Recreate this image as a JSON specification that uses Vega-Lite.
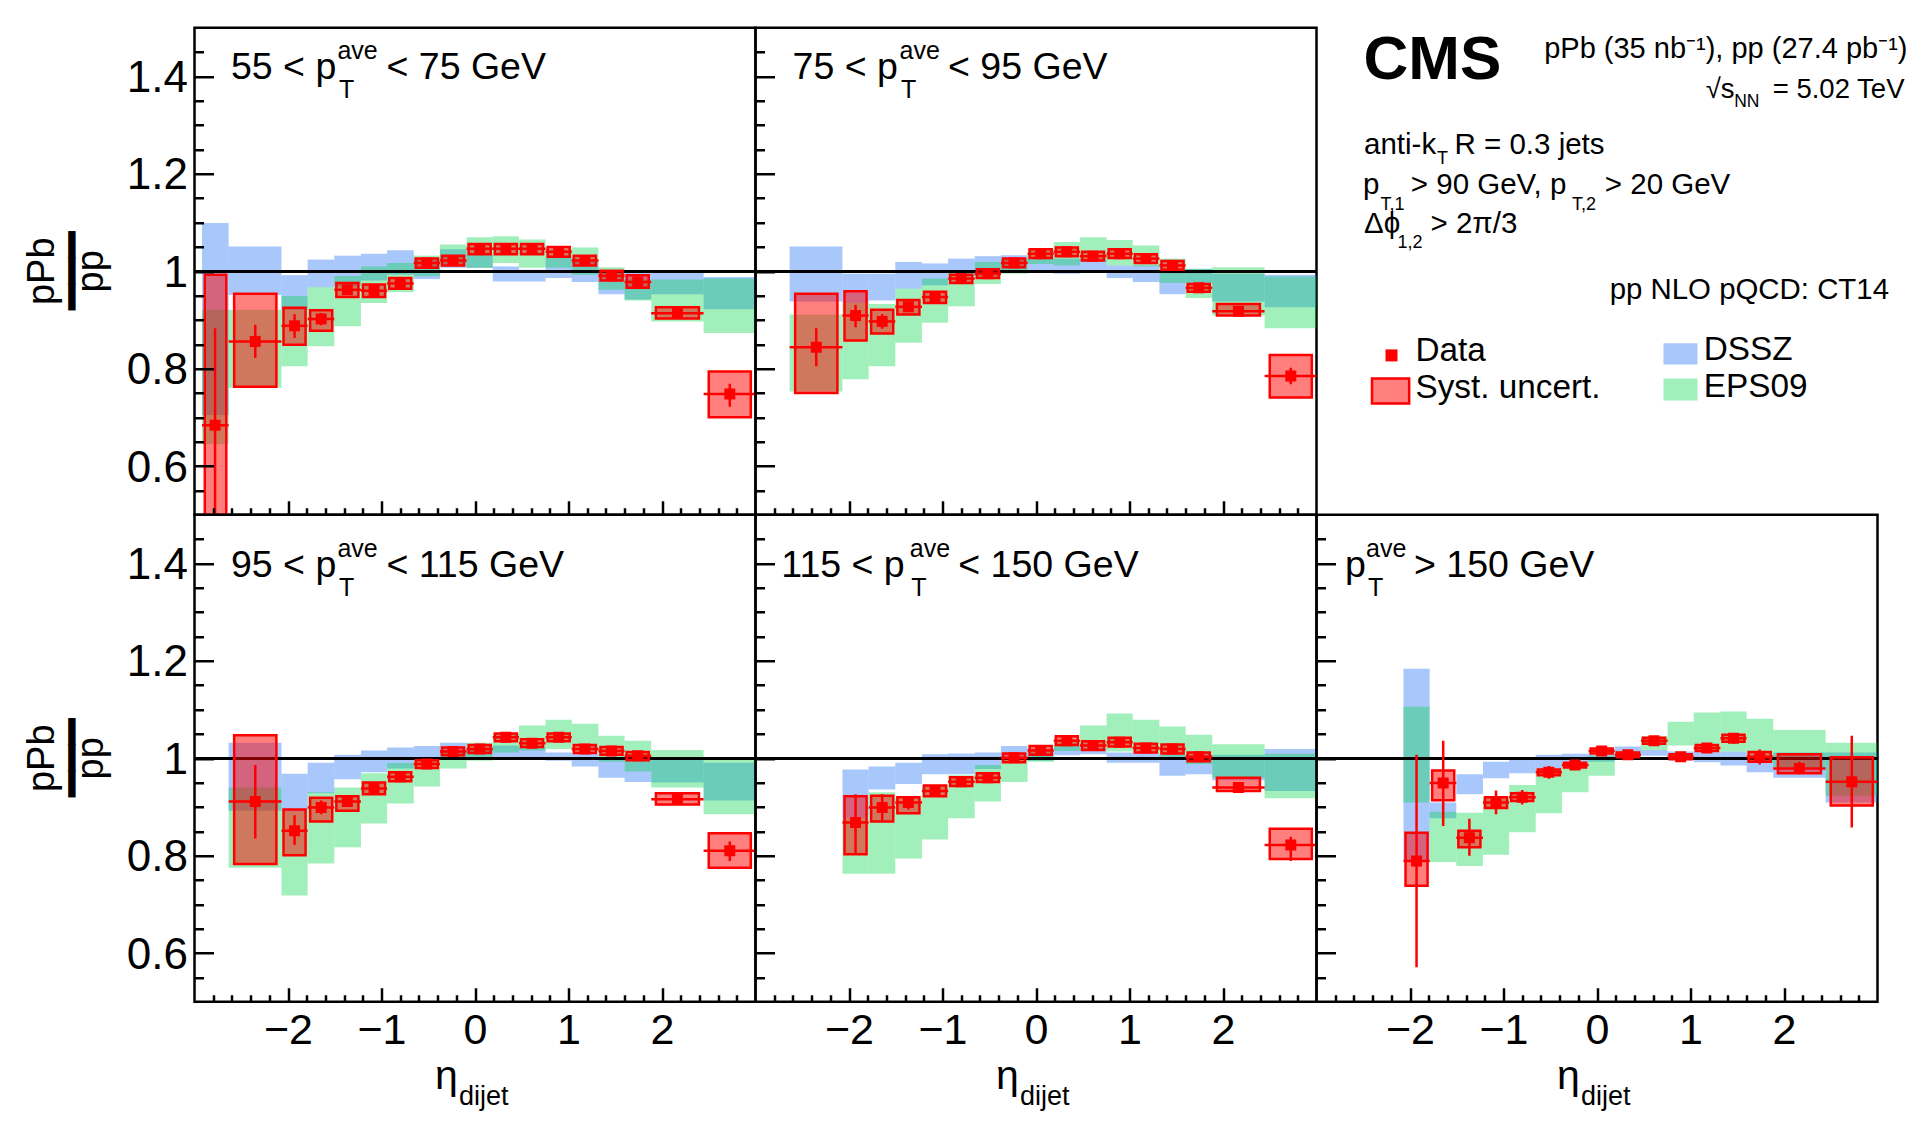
{
"$schema": "https://vega.github.io/schema/vega-lite/v6.json",
"background": "white",
"padding": {"left": 22.5, "top": 25.75, "right": 5, "bottom": 5},
"config": {
  "view": {"stroke": "black", "strokeWidth": 2.5},
  "font": "Liberation Sans",
  "text": {"font": "Liberation Sans", "color": "black", "baseline": "alphabetic"},
  "axis": {"labelFont": "Liberation Sans", "labelColor": "black", "minExtent": 0}
},
"datasets": {
"bins": [
{"p":"a","lo":-2.92,"hi":-2.635,"x":-2.78,"bl":-2.89,"bh":-2.66,"r":0.684,"sl":0.45,"sh":0.883,"yl":0.35,"yh":0.993,"dl":0.705,"dh":1.099,"el":0.645,"eh":0.921},
{"p":"a","lo":-2.635,"hi":-2.07,"x":-2.35,"bl":-2.576,"bh":-2.124,"r":0.856,"sl":0.822,"sh":0.89,"yl":0.763,"yh":0.954,"dl":0.951,"dh":1.051,"el":0.761,"eh":0.921},
{"p":"a","lo":-2.07,"hi":-1.79,"x":-1.93,"bl":-2.048,"bh":-1.812,"r":0.888,"sl":0.863,"sh":0.912,"yl":0.849,"yh":0.925,"dl":0.921,"dh":0.992,"el":0.805,"eh":0.949},
{"p":"a","lo":-1.79,"hi":-1.505,"x":-1.645,"bl":-1.763,"bh":-1.527,"r":0.902,"sl":0.889,"sh":0.914,"yl":0.878,"yh":0.92,"dl":0.967,"dh":1.024,"el":0.846,"eh":0.967},
{"p":"a","lo":-1.505,"hi":-1.22,"x":-1.365,"bl":-1.483,"bh":-1.247,"r":0.962,"sl":0.953,"sh":0.971,"yl":0.947,"yh":0.976,"dl":0.969,"dh":1.032,"el":0.887,"eh":0.99},
{"p":"a","lo":-1.22,"hi":-0.94,"x":-1.08,"bl":-1.198,"bh":-0.962,"r":0.96,"sl":0.952,"sh":0.968,"yl":0.947,"yh":0.973,"dl":0.981,"dh":1.036,"el":0.935,"eh":1.01},
{"p":"a","lo":-0.94,"hi":-0.655,"x":-0.8,"bl":-0.918,"bh":-0.682,"r":0.975,"sl":0.968,"sh":0.982,"yl":0.964,"yh":0.986,"dl":0.993,"dh":1.043,"el":0.957,"eh":1.017},
{"p":"a","lo":-0.655,"hi":-0.375,"x":-0.515,"bl":-0.633,"bh":-0.397,"r":1.017,"sl":1.011,"sh":1.023,"yl":1.007,"yh":1.026,"dl":0.984,"dh":1.027,"el":0.99,"eh":1.032},
{"p":"a","lo":-0.375,"hi":-0.09,"x":-0.235,"bl":-0.353,"bh":-0.117,"r":1.022,"sl":1.016,"sh":1.028,"yl":1.012,"yh":1.032,"dl":1.007,"dh":1.045,"el":1.012,"eh":1.055},
{"p":"a","lo":-0.09,"hi":0.19,"x":0.05,"bl":-0.068,"bh":0.168,"r":1.046,"sl":1.04,"sh":1.052,"yl":1.035,"yh":1.056,"dl":1.007,"dh":1.034,"el":1.007,"eh":1.07},
{"p":"a","lo":0.19,"hi":0.47,"x":0.33,"bl":0.212,"bh":0.448,"r":1.046,"sl":1.04,"sh":1.052,"yl":1.035,"yh":1.056,"dl":0.979,"dh":1.01,"el":1.017,"eh":1.072},
{"p":"a","lo":0.47,"hi":0.755,"x":0.61,"bl":0.492,"bh":0.728,"r":1.046,"sl":1.04,"sh":1.052,"yl":1.035,"yh":1.056,"dl":0.979,"dh":1.003,"el":1.007,"eh":1.065},
{"p":"a","lo":0.755,"hi":1.035,"x":0.895,"bl":0.777,"bh":1.013,"r":1.04,"sl":1.034,"sh":1.046,"yl":1.03,"yh":1.05,"dl":0.986,"dh":1.028,"el":1.007,"eh":1.045},
{"p":"a","lo":1.035,"hi":1.32,"x":1.175,"bl":1.057,"bh":1.293,"r":1.022,"sl":1.016,"sh":1.028,"yl":1.012,"yh":1.032,"dl":0.978,"dh":1.024,"el":0.993,"eh":1.049},
{"p":"a","lo":1.32,"hi":1.6,"x":1.46,"bl":1.342,"bh":1.578,"r":0.991,"sl":0.985,"sh":0.997,"yl":0.981,"yh":1.001,"dl":0.953,"dh":1.0,"el":0.962,"eh":1.008},
{"p":"a","lo":1.6,"hi":1.885,"x":1.74,"bl":1.622,"bh":1.858,"r":0.978,"sl":0.965,"sh":0.99,"yl":0.966,"yh":0.992,"dl":0.942,"dh":0.997,"el":0.94,"eh":0.983},
{"p":"a","lo":1.885,"hi":2.445,"x":2.165,"bl":1.935,"bh":2.395,"r":0.914,"sl":0.909,"sh":0.919,"yl":0.903,"yh":0.926,"dl":0.953,"dh":0.997,"el":0.897,"eh":0.983},
{"p":"a","lo":2.445,"hi":3.0,"x":2.725,"bl":2.5,"bh":2.95,"r":0.748,"sl":0.722,"sh":0.769,"yl":0.7,"yh":0.794,"dl":0.922,"dh":0.988,"el":0.873,"eh":0.985},

{"p":"b","lo":-2.635,"hi":-2.07,"x":-2.35,"bl":-2.576,"bh":-2.124,"r":0.844,"sl":0.805,"sh":0.883,"yl":0.75,"yh":0.954,"dl":0.938,"dh":1.051,"el":0.753,"eh":0.911},
{"p":"b","lo":-2.07,"hi":-1.79,"x":-1.93,"bl":-2.048,"bh":-1.812,"r":0.909,"sl":0.885,"sh":0.931,"yl":0.858,"yh":0.959,"dl":0.935,"dh":0.995,"el":0.778,"eh":0.935},
{"p":"b","lo":-1.79,"hi":-1.505,"x":-1.645,"bl":-1.763,"bh":-1.527,"r":0.897,"sl":0.882,"sh":0.912,"yl":0.872,"yh":0.921,"dl":0.94,"dh":0.995,"el":0.805,"eh":0.933},
{"p":"b","lo":-1.505,"hi":-1.22,"x":-1.365,"bl":-1.483,"bh":-1.247,"r":0.927,"sl":0.918,"sh":0.936,"yl":0.911,"yh":0.941,"dl":0.964,"dh":1.019,"el":0.853,"eh":0.964},
{"p":"b","lo":-1.22,"hi":-0.94,"x":-1.08,"bl":-1.198,"bh":-0.962,"r":0.947,"sl":0.94,"sh":0.954,"yl":0.935,"yh":0.958,"dl":0.971,"dh":1.016,"el":0.894,"eh":0.985},
{"p":"b","lo":-0.94,"hi":-0.655,"x":-0.8,"bl":-0.918,"bh":-0.682,"r":0.985,"sl":0.979,"sh":0.991,"yl":0.976,"yh":0.993,"dl":0.99,"dh":1.026,"el":0.928,"eh":0.997},
{"p":"b","lo":-0.655,"hi":-0.375,"x":-0.515,"bl":-0.633,"bh":-0.397,"r":0.995,"sl":0.989,"sh":1.001,"yl":0.986,"yh":1.004,"dl":0.99,"dh":1.031,"el":0.974,"eh":1.019},
{"p":"b","lo":-0.375,"hi":-0.09,"x":-0.235,"bl":-0.353,"bh":-0.117,"r":1.017,"sl":1.011,"sh":1.023,"yl":1.008,"yh":1.026,"dl":1.001,"dh":1.033,"el":0.995,"eh":1.026},
{"p":"b","lo":-0.09,"hi":0.19,"x":0.05,"bl":-0.068,"bh":0.168,"r":1.036,"sl":1.03,"sh":1.042,"yl":1.027,"yh":1.045,"dl":1.001,"dh":1.029,"el":1.015,"eh":1.045},
{"p":"b","lo":0.19,"hi":0.47,"x":0.33,"bl":0.212,"bh":0.448,"r":1.04,"sl":1.034,"sh":1.046,"yl":1.031,"yh":1.049,"dl":0.995,"dh":1.026,"el":1.012,"eh":1.06},
{"p":"b","lo":0.47,"hi":0.755,"x":0.61,"bl":0.492,"bh":0.728,"r":1.031,"sl":1.025,"sh":1.037,"yl":1.022,"yh":1.04,"dl":1.0,"dh":1.026,"el":1.019,"eh":1.07},
{"p":"b","lo":0.755,"hi":1.035,"x":0.895,"bl":0.777,"bh":1.013,"r":1.036,"sl":1.03,"sh":1.042,"yl":1.027,"yh":1.045,"dl":0.986,"dh":1.012,"el":1.012,"eh":1.064},
{"p":"b","lo":1.035,"hi":1.32,"x":1.175,"bl":1.057,"bh":1.293,"r":1.026,"sl":1.02,"sh":1.032,"yl":1.017,"yh":1.035,"dl":0.978,"dh":1.012,"el":1.01,"eh":1.053},
{"p":"b","lo":1.32,"hi":1.6,"x":1.46,"bl":1.342,"bh":1.578,"r":1.012,"sl":1.006,"sh":1.018,"yl":1.003,"yh":1.021,"dl":0.953,"dh":0.997,"el":0.976,"eh":1.026},
{"p":"b","lo":1.6,"hi":1.885,"x":1.74,"bl":1.622,"bh":1.858,"r":0.966,"sl":0.96,"sh":0.972,"yl":0.958,"yh":0.974,"dl":0.976,"dh":1.005,"el":0.945,"eh":1.005},
{"p":"b","lo":1.885,"hi":2.445,"x":2.165,"bl":1.935,"bh":2.395,"r":0.918,"sl":0.913,"sh":0.923,"yl":0.909,"yh":0.933,"dl":0.938,"dh":0.995,"el":0.909,"eh":1.008},
{"p":"b","lo":2.445,"hi":3.0,"x":2.725,"bl":2.5,"bh":2.95,"r":0.785,"sl":0.768,"sh":0.802,"yl":0.741,"yh":0.828,"dl":0.926,"dh":0.993,"el":0.883,"eh":0.989},

{"p":"c","lo":-2.635,"hi":-2.07,"x":-2.35,"bl":-2.576,"bh":-2.124,"r":0.911,"sl":0.835,"sh":0.986,"yl":0.783,"yh":1.047,"dl":0.892,"dh":1.032,"el":0.775,"eh":0.94},
{"p":"c","lo":-2.07,"hi":-1.79,"x":-1.93,"bl":-2.048,"bh":-1.812,"r":0.851,"sl":0.822,"sh":0.883,"yl":0.801,"yh":0.895,"dl":0.89,"dh":0.968,"el":0.718,"eh":0.89},
{"p":"c","lo":-1.79,"hi":-1.505,"x":-1.645,"bl":-1.763,"bh":-1.527,"r":0.899,"sl":0.885,"sh":0.913,"yl":0.87,"yh":0.919,"dl":0.928,"dh":0.991,"el":0.784,"eh":0.93},
{"p":"c","lo":-1.505,"hi":-1.22,"x":-1.365,"bl":-1.483,"bh":-1.247,"r":0.911,"sl":0.9,"sh":0.921,"yl":0.892,"yh":0.922,"dl":0.957,"dh":1.007,"el":0.817,"eh":0.94},
{"p":"c","lo":-1.22,"hi":-0.94,"x":-1.08,"bl":-1.198,"bh":-0.962,"r":0.938,"sl":0.931,"sh":0.945,"yl":0.926,"yh":0.95,"dl":0.971,"dh":1.016,"el":0.866,"eh":0.969},
{"p":"c","lo":-0.94,"hi":-0.655,"x":-0.8,"bl":-0.918,"bh":-0.682,"r":0.962,"sl":0.956,"sh":0.968,"yl":0.953,"yh":0.971,"dl":0.979,"dh":1.022,"el":0.907,"eh":0.99},
{"p":"c","lo":-0.655,"hi":-0.375,"x":-0.515,"bl":-0.633,"bh":-0.397,"r":0.988,"sl":0.982,"sh":0.994,"yl":0.98,"yh":0.996,"dl":0.995,"dh":1.025,"el":0.942,"eh":1.0},
{"p":"c","lo":-0.375,"hi":-0.09,"x":-0.235,"bl":-0.353,"bh":-0.117,"r":1.014,"sl":1.008,"sh":1.02,"yl":1.006,"yh":1.022,"dl":1.0,"dh":1.032,"el":0.979,"eh":1.015},
{"p":"c","lo":-0.09,"hi":0.19,"x":0.05,"bl":-0.068,"bh":0.168,"r":1.019,"sl":1.013,"sh":1.025,"yl":1.011,"yh":1.027,"dl":0.998,"dh":1.02,"el":0.995,"eh":1.032},
{"p":"c","lo":0.19,"hi":0.47,"x":0.33,"bl":0.212,"bh":0.448,"r":1.043,"sl":1.037,"sh":1.049,"yl":1.035,"yh":1.051,"dl":1.001,"dh":1.026,"el":1.012,"eh":1.051},
{"p":"c","lo":0.47,"hi":0.755,"x":0.61,"bl":0.492,"bh":0.728,"r":1.031,"sl":1.025,"sh":1.037,"yl":1.023,"yh":1.039,"dl":0.998,"dh":1.022,"el":1.016,"eh":1.067},
{"p":"c","lo":0.755,"hi":1.035,"x":0.895,"bl":0.777,"bh":1.013,"r":1.043,"sl":1.037,"sh":1.049,"yl":1.035,"yh":1.051,"dl":0.995,"dh":1.012,"el":1.019,"eh":1.079},
{"p":"c","lo":1.035,"hi":1.32,"x":1.175,"bl":1.057,"bh":1.293,"r":1.019,"sl":1.013,"sh":1.025,"yl":1.011,"yh":1.027,"dl":0.983,"dh":1.01,"el":1.014,"eh":1.071},
{"p":"c","lo":1.32,"hi":1.6,"x":1.46,"bl":1.342,"bh":1.578,"r":1.015,"sl":1.009,"sh":1.021,"yl":1.007,"yh":1.023,"dl":0.96,"dh":1.003,"el":0.993,"eh":1.046},
{"p":"c","lo":1.6,"hi":1.885,"x":1.74,"bl":1.622,"bh":1.858,"r":1.005,"sl":0.999,"sh":1.011,"yl":0.996,"yh":1.013,"dl":0.951,"dh":1.0,"el":0.973,"eh":1.036},
{"p":"c","lo":1.885,"hi":2.445,"x":2.165,"bl":1.935,"bh":2.395,"r":0.916,"sl":0.911,"sh":0.921,"yl":0.905,"yh":0.928,"dl":0.95,"dh":1.001,"el":0.94,"eh":1.017},
{"p":"c","lo":2.445,"hi":3.0,"x":2.725,"bl":2.5,"bh":2.95,"r":0.81,"sl":0.789,"sh":0.829,"yl":0.775,"yh":0.846,"dl":0.913,"dh":0.991,"el":0.885,"eh":0.997},

{"p":"d","lo":-2.07,"hi":-1.79,"x":-1.93,"bl":-2.048,"bh":-1.812,"r":0.868,"sl":0.805,"sh":0.926,"yl":0.803,"yh":0.922,"dl":0.878,"dh":0.977,"el":0.763,"eh":0.878},
{"p":"d","lo":-1.79,"hi":-1.505,"x":-1.645,"bl":-1.763,"bh":-1.527,"r":0.899,"sl":0.872,"sh":0.926,"yl":0.87,"yh":0.923,"dl":0.936,"dh":0.983,"el":0.763,"eh":0.93},
{"p":"d","lo":-1.505,"hi":-1.22,"x":-1.365,"bl":-1.483,"bh":-1.247,"r":0.909,"sl":0.895,"sh":0.922,"yl":0.887,"yh":0.92,"dl":0.947,"dh":0.991,"el":0.794,"eh":0.918},
{"p":"d","lo":-1.22,"hi":-0.94,"x":-1.08,"bl":-1.198,"bh":-0.962,"r":0.933,"sl":0.925,"sh":0.941,"yl":0.922,"yh":0.944,"dl":0.967,"dh":1.008,"el":0.833,"eh":0.945},
{"p":"d","lo":-0.94,"hi":-0.655,"x":-0.8,"bl":-0.918,"bh":-0.682,"r":0.952,"sl":0.946,"sh":0.958,"yl":0.943,"yh":0.961,"dl":0.967,"dh":1.01,"el":0.877,"eh":0.965},
{"p":"d","lo":-0.655,"hi":-0.375,"x":-0.515,"bl":-0.633,"bh":-0.397,"r":0.96,"sl":0.954,"sh":0.966,"yl":0.951,"yh":0.969,"dl":0.978,"dh":1.012,"el":0.911,"eh":0.986},
{"p":"d","lo":-0.375,"hi":-0.09,"x":-0.235,"bl":-0.353,"bh":-0.117,"r":1.001,"sl":0.995,"sh":1.007,"yl":0.992,"yh":1.01,"dl":1.0,"dh":1.025,"el":0.951,"eh":1.0},
{"p":"d","lo":-0.09,"hi":0.19,"x":0.05,"bl":-0.068,"bh":0.168,"r":1.016,"sl":1.01,"sh":1.022,"yl":1.007,"yh":1.025,"dl":0.995,"dh":1.012,"el":0.993,"eh":1.02},
{"p":"d","lo":0.19,"hi":0.47,"x":0.33,"bl":0.212,"bh":0.448,"r":1.036,"sl":1.03,"sh":1.042,"yl":1.027,"yh":1.045,"dl":1.006,"dh":1.025,"el":1.015,"eh":1.036},
{"p":"d","lo":0.47,"hi":0.755,"x":0.61,"bl":0.492,"bh":0.728,"r":1.026,"sl":1.02,"sh":1.032,"yl":1.017,"yh":1.035,"dl":1.008,"dh":1.02,"el":1.017,"eh":1.067},
{"p":"d","lo":0.755,"hi":1.035,"x":0.895,"bl":0.777,"bh":1.013,"r":1.033,"sl":1.027,"sh":1.039,"yl":1.024,"yh":1.042,"dl":0.991,"dh":1.012,"el":1.014,"eh":1.092},
{"p":"d","lo":1.035,"hi":1.32,"x":1.175,"bl":1.057,"bh":1.293,"r":1.021,"sl":1.015,"sh":1.027,"yl":1.012,"yh":1.03,"dl":0.991,"dh":1.01,"el":1.01,"eh":1.079},
{"p":"d","lo":1.32,"hi":1.6,"x":1.46,"bl":1.342,"bh":1.578,"r":1.019,"sl":1.013,"sh":1.025,"yl":1.01,"yh":1.028,"dl":0.964,"dh":1.007,"el":1.0,"eh":1.065},
{"p":"d","lo":1.6,"hi":1.885,"x":1.74,"bl":1.622,"bh":1.858,"r":1.003,"sl":0.997,"sh":1.009,"yl":0.994,"yh":1.012,"dl":0.967,"dh":1.007,"el":0.988,"eh":1.048},
{"p":"d","lo":1.885,"hi":2.445,"x":2.165,"bl":1.935,"bh":2.395,"r":0.94,"sl":0.935,"sh":0.945,"yl":0.933,"yh":0.96,"dl":0.955,"dh":1.007,"el":0.96,"eh":1.029},
{"p":"d","lo":2.445,"hi":3.0,"x":2.725,"bl":2.5,"bh":2.95,"r":0.822,"sl":0.789,"sh":0.839,"yl":0.793,"yh":0.855,"dl":0.933,"dh":1.019,"el":0.918,"eh":1.009},

{"p":"e","lo":-2.07,"hi":-1.79,"x":-1.93,"bl":-2.048,"bh":-1.812,"r":0.789,"sl":0.571,"sh":1.007,"yl":0.738,"yh":0.847,"dl":0.79,"dh":1.184,"el":0.909,"eh":1.106},
{"p":"e","lo":-1.79,"hi":-1.505,"x":-1.645,"bl":-1.763,"bh":-1.527,"r":0.949,"sl":0.861,"sh":1.036,"yl":0.914,"yh":0.975,"dl":0.877,"dh":0.909,"el":0.787,"eh":0.89},
{"p":"e","lo":-1.505,"hi":-1.22,"x":-1.365,"bl":-1.483,"bh":-1.247,"r":0.837,"sl":0.8,"sh":0.876,"yl":0.817,"yh":0.851,"dl":0.926,"dh":0.967,"el":0.779,"eh":0.888},
{"p":"e","lo":-1.22,"hi":-0.94,"x":-1.08,"bl":-1.198,"bh":-0.962,"r":0.909,"sl":0.885,"sh":0.934,"yl":0.898,"yh":0.92,"dl":0.959,"dh":0.993,"el":0.802,"eh":0.92},
{"p":"e","lo":-0.94,"hi":-0.655,"x":-0.8,"bl":-0.918,"bh":-0.682,"r":0.92,"sl":0.905,"sh":0.935,"yl":0.912,"yh":0.928,"dl":0.969,"dh":0.999,"el":0.848,"eh":0.945},
{"p":"e","lo":-0.655,"hi":-0.375,"x":-0.515,"bl":-0.633,"bh":-0.397,"r":0.971,"sl":0.958,"sh":0.984,"yl":0.965,"yh":0.977,"dl":0.979,"dh":1.007,"el":0.887,"eh":0.979},
{"p":"e","lo":-0.375,"hi":-0.09,"x":-0.235,"bl":-0.353,"bh":-0.117,"r":0.986,"sl":0.976,"sh":0.996,"yl":0.981,"yh":0.991,"dl":0.99,"dh":1.009,"el":0.93,"eh":0.99},
{"p":"e","lo":-0.09,"hi":0.19,"x":0.05,"bl":-0.068,"bh":0.168,"r":1.015,"sl":1.006,"sh":1.024,"yl":1.01,"yh":1.02,"dl":0.993,"dh":1.008,"el":0.964,"eh":1.005},
{"p":"e","lo":0.19,"hi":0.47,"x":0.33,"bl":0.212,"bh":0.448,"r":1.007,"sl":1.001,"sh":1.013,"yl":1.002,"yh":1.012,"dl":0.998,"dh":1.024,"el":0.998,"eh":1.015},
{"p":"e","lo":0.47,"hi":0.755,"x":0.61,"bl":0.492,"bh":0.728,"r":1.036,"sl":1.028,"sh":1.044,"yl":1.03,"yh":1.042,"dl":1.005,"dh":1.017,"el":1.017,"eh":1.045},
{"p":"e","lo":0.755,"hi":1.035,"x":0.895,"bl":0.777,"bh":1.013,"r":1.003,"sl":0.995,"sh":1.011,"yl":0.998,"yh":1.008,"dl":0.997,"dh":1.014,"el":1.026,"eh":1.075},
{"p":"e","lo":1.035,"hi":1.32,"x":1.175,"bl":1.057,"bh":1.293,"r":1.021,"sl":1.012,"sh":1.03,"yl":1.015,"yh":1.027,"dl":0.992,"dh":1.014,"el":1.014,"eh":1.094},
{"p":"e","lo":1.32,"hi":1.6,"x":1.46,"bl":1.342,"bh":1.578,"r":1.041,"sl":1.03,"sh":1.052,"yl":1.034,"yh":1.048,"dl":0.985,"dh":1.014,"el":1.014,"eh":1.096},
{"p":"e","lo":1.6,"hi":1.885,"x":1.74,"bl":1.622,"bh":1.858,"r":1.003,"sl":0.987,"sh":1.018,"yl":0.993,"yh":1.013,"dl":0.971,"dh":1.0,"el":0.99,"eh":1.081},
{"p":"e","lo":1.885,"hi":2.445,"x":2.165,"bl":1.935,"bh":2.395,"r":0.979,"sl":0.967,"sh":0.993,"yl":0.969,"yh":1.008,"dl":0.96,"dh":1.012,"el":0.981,"eh":1.058},
{"p":"e","lo":2.445,"hi":3.0,"x":2.725,"bl":2.5,"bh":2.95,"r":0.952,"sl":0.858,"sh":1.046,"yl":0.903,"yh":1.002,"dl":0.909,"dh":1.012,"el":0.923,"eh":1.032}
]
},
"bounds": "flush",
"spacing": 0,
"columns": 3,
"concat": [
{
"width": 561, "height": 487,
"data": {"name": "bins"},
"transform": [{"filter": "datum.p === 'a'"}],
"resolve": {"axis": {"x": "independent", "y": "independent"}},
"layer": [
{"mark": {"type": "rect", "color": "#1468f1", "fillOpacity": 0.37, "clip": true},
 "encoding": {
  "x": {"field": "lo", "type": "quantitative", "scale": {"domain": [-3, 3], "nice": false, "zero": false},
        "axis": {"orient": "bottom", "values": [-2, -1, 0, 1, 2], "tickSize": -14, "tickWidth": 2.5, "tickColor": "black", "domain": false, "grid": false, "labels": false, "title": null, "zindex": 1}},
  "x2": {"field": "hi"},
  "y": {"field": "dl", "type": "quantitative", "scale": {"domain": [0.5, 1.5], "nice": false, "zero": false},
        "axis": {"orient": "left", "values": [0.6, 0.8, 1, 1.2, 1.4], "format": "~g", "tickSize": -19, "tickWidth": 2.5, "tickColor": "black", "domain": false, "grid": false, "labels": true, "labelFontSize": 44, "labelPadding": 26, "labelOffset": 2, "labelOverlap": false, "labelFlush": false, "labelBound": false, "title": null, "zindex": 1}},
  "y2": {"field": "dh"}}},
{"mark": {"type": "rect", "color": "#00d64a", "fillOpacity": 0.37, "clip": true},
 "encoding": {
  "x": {"field": "lo", "type": "quantitative",
        "axis": {"orient": "bottom", "values": [-2.8, -2.6, -2.4, -2.2, -1.8, -1.6, -1.4, -1.2, -0.8, -0.6, -0.4, -0.2, 0.2, 0.4, 0.6, 0.8, 1.2, 1.4, 1.6, 1.8, 2.2, 2.4, 2.6, 2.8], "tickSize": -7, "tickWidth": 2.5, "tickColor": "black", "domain": false, "grid": false, "labels": false, "title": null, "zindex": 1}},
  "x2": {"field": "hi"},
  "y": {"field": "el", "type": "quantitative",
        "axis": {"orient": "left", "values": [0.55, 0.65, 0.7, 0.75, 0.85, 0.9, 0.95, 1.05, 1.1, 1.15, 1.25, 1.3, 1.35, 1.45], "tickSize": -9, "tickWidth": 2.5, "tickColor": "black", "domain": false, "grid": false, "labels": false, "title": null, "zindex": 1}},
  "y2": {"field": "eh"}}},
{"mark": {"type": "rule", "color": "black", "strokeWidth": 2}, "encoding": {"y": {"datum": 1, "type": "quantitative", "axis": null}}},
{"mark": {"type": "rect", "color": "#ff0000", "fillOpacity": 0.5, "stroke": "#ff0000", "strokeWidth": 2.5, "clip": true},
 "encoding": {"x": {"field": "bl", "type": "quantitative", "axis": null}, "x2": {"field": "bh"}, "y": {"field": "yl", "type": "quantitative", "axis": null}, "y2": {"field": "yh"}}},
{"mark": {"type": "rule", "color": "#ff0000", "strokeWidth": 2.5, "clip": true},
 "encoding": {"x": {"field": "x", "type": "quantitative", "axis": null}, "y": {"field": "sl", "type": "quantitative", "axis": null}, "y2": {"field": "sh"}}},
{"mark": {"type": "rule", "color": "#ff0000", "strokeWidth": 2.5, "clip": true},
 "encoding": {"x": {"field": "lo", "type": "quantitative", "axis": null}, "x2": {"field": "hi"}, "y": {"field": "r", "type": "quantitative", "axis": null}}},
{"mark": {"type": "square", "size": 121, "color": "#ff0000", "opacity": 1, "clip": true},
 "encoding": {"x": {"field": "x", "type": "quantitative", "axis": null}, "y": {"field": "r", "type": "quantitative", "axis": null}}},
{"data": {"values": [{}]}, "mark": {"type": "text", "text": "55 < p", "align": "left", "fontSize": 37.5},
 "encoding": {"x": {"datum": -2.61, "type": "quantitative", "axis": null}, "y": {"datum": 1.395, "type": "quantitative", "axis": null}}},
{"data": {"values": [{}]}, "mark": {"type": "text", "text": "ave", "align": "left", "fontSize": 25, "dx": 106.5, "dy": -19.5},
 "encoding": {"x": {"datum": -2.61, "type": "quantitative", "axis": null}, "y": {"datum": 1.395, "type": "quantitative", "axis": null}}},
{"data": {"values": [{}]}, "mark": {"type": "text", "text": "T", "align": "left", "fontSize": 25, "dx": 108, "dy": 19},
 "encoding": {"x": {"datum": -2.61, "type": "quantitative", "axis": null}, "y": {"datum": 1.395, "type": "quantitative", "axis": null}}},
{"data": {"values": [{}]}, "mark": {"type": "text", "text": "< 75 GeV", "align": "left", "fontSize": 37.5, "dx": 155.5},
 "encoding": {"x": {"datum": -2.61, "type": "quantitative", "axis": null}, "y": {"datum": 1.395, "type": "quantitative", "axis": null}}},
{"data": {"values": [{}]}, "mark": {"type": "text", "text": "pPb", "align": "center", "baseline": "middle", "angle": 270, "fontSize": 38, "dy": -151.5},
 "encoding": {"x": {"datum": -3, "type": "quantitative", "axis": null}, "y": {"datum": 1, "type": "quantitative", "axis": null}}},
{"data": {"values": [{}]}, "mark": {"type": "text", "text": "pp", "align": "center", "baseline": "middle", "angle": 270, "fontSize": 38, "dy": -103},
 "encoding": {"x": {"datum": -3, "type": "quantitative", "axis": null}, "y": {"datum": 1, "type": "quantitative", "axis": null}}},
{"data": {"values": [{}]}, "mark": {"type": "text", "text": "━━━", "align": "center", "baseline": "middle", "angle": 270, "fontSize": 44, "dy": -121},
 "encoding": {"x": {"datum": -3, "type": "quantitative", "axis": null}, "y": {"datum": 1, "type": "quantitative", "axis": null}}}
]
},
{
"width": 561, "height": 487,
"data": {"name": "bins"},
"transform": [{"filter": "datum.p === 'b'"}],
"resolve": {"axis": {"x": "independent", "y": "independent"}},
"layer": [
{"mark": {"type": "rect", "color": "#1468f1", "fillOpacity": 0.37, "clip": true},
 "encoding": {
  "x": {"field": "lo", "type": "quantitative", "scale": {"domain": [-3, 3], "nice": false, "zero": false},
        "axis": {"orient": "bottom", "values": [-2, -1, 0, 1, 2], "tickSize": -14, "tickWidth": 2.5, "tickColor": "black", "domain": false, "grid": false, "labels": false, "title": null, "zindex": 1}},
  "x2": {"field": "hi"},
  "y": {"field": "dl", "type": "quantitative", "scale": {"domain": [0.5, 1.5], "nice": false, "zero": false},
        "axis": {"orient": "left", "values": [0.6, 0.8, 1, 1.2, 1.4], "tickSize": -19, "tickWidth": 2.5, "tickColor": "black", "domain": false, "grid": false, "labels": false, "title": null, "zindex": 1}},
  "y2": {"field": "dh"}}},
{"mark": {"type": "rect", "color": "#00d64a", "fillOpacity": 0.37, "clip": true},
 "encoding": {
  "x": {"field": "lo", "type": "quantitative",
        "axis": {"orient": "bottom", "values": [-2.8, -2.6, -2.4, -2.2, -1.8, -1.6, -1.4, -1.2, -0.8, -0.6, -0.4, -0.2, 0.2, 0.4, 0.6, 0.8, 1.2, 1.4, 1.6, 1.8, 2.2, 2.4, 2.6, 2.8], "tickSize": -7, "tickWidth": 2.5, "tickColor": "black", "domain": false, "grid": false, "labels": false, "title": null, "zindex": 1}},
  "x2": {"field": "hi"},
  "y": {"field": "el", "type": "quantitative",
        "axis": {"orient": "left", "values": [0.55, 0.65, 0.7, 0.75, 0.85, 0.9, 0.95, 1.05, 1.1, 1.15, 1.25, 1.3, 1.35, 1.45], "tickSize": -9, "tickWidth": 2.5, "tickColor": "black", "domain": false, "grid": false, "labels": false, "title": null, "zindex": 1}},
  "y2": {"field": "eh"}}},
{"mark": {"type": "rule", "color": "black", "strokeWidth": 2}, "encoding": {"y": {"datum": 1, "type": "quantitative", "axis": null}}},
{"mark": {"type": "rect", "color": "#ff0000", "fillOpacity": 0.5, "stroke": "#ff0000", "strokeWidth": 2.5, "clip": true},
 "encoding": {"x": {"field": "bl", "type": "quantitative", "axis": null}, "x2": {"field": "bh"}, "y": {"field": "yl", "type": "quantitative", "axis": null}, "y2": {"field": "yh"}}},
{"mark": {"type": "rule", "color": "#ff0000", "strokeWidth": 2.5, "clip": true},
 "encoding": {"x": {"field": "x", "type": "quantitative", "axis": null}, "y": {"field": "sl", "type": "quantitative", "axis": null}, "y2": {"field": "sh"}}},
{"mark": {"type": "rule", "color": "#ff0000", "strokeWidth": 2.5, "clip": true},
 "encoding": {"x": {"field": "lo", "type": "quantitative", "axis": null}, "x2": {"field": "hi"}, "y": {"field": "r", "type": "quantitative", "axis": null}}},
{"mark": {"type": "square", "size": 121, "color": "#ff0000", "opacity": 1, "clip": true},
 "encoding": {"x": {"field": "x", "type": "quantitative", "axis": null}, "y": {"field": "r", "type": "quantitative", "axis": null}}},
{"data": {"values": [{}]}, "mark": {"type": "text", "text": "75 < p", "align": "left", "fontSize": 37.5},
 "encoding": {"x": {"datum": -2.604, "type": "quantitative", "axis": null}, "y": {"datum": 1.395, "type": "quantitative", "axis": null}}},
{"data": {"values": [{}]}, "mark": {"type": "text", "text": "ave", "align": "left", "fontSize": 25, "dx": 107, "dy": -19.5},
 "encoding": {"x": {"datum": -2.604, "type": "quantitative", "axis": null}, "y": {"datum": 1.395, "type": "quantitative", "axis": null}}},
{"data": {"values": [{}]}, "mark": {"type": "text", "text": "T", "align": "left", "fontSize": 25, "dx": 108.5, "dy": 19},
 "encoding": {"x": {"datum": -2.604, "type": "quantitative", "axis": null}, "y": {"datum": 1.395, "type": "quantitative", "axis": null}}},
{"data": {"values": [{}]}, "mark": {"type": "text", "text": "< 95 GeV", "align": "left", "fontSize": 37.5, "dx": 155.5},
 "encoding": {"x": {"datum": -2.604, "type": "quantitative", "axis": null}, "y": {"datum": 1.395, "type": "quantitative", "axis": null}}}
]
},
{
"width": 561, "height": 487,
"view": {"stroke": null},
"data": {"values": [{}]},
"layer": [
{"mark": {"type": "text", "text": "CMS", "align": "left", "fontSize": 62, "fontWeight": "bold"},
 "encoding": {"x": {"datum": 0.0838, "type": "quantitative", "scale": {"domain": [0, 1], "nice": false, "zero": false}, "axis": null},
              "y": {"datum": 0.8944, "type": "quantitative", "scale": {"domain": [0, 1], "nice": false, "zero": false}, "axis": null}}},
{"mark": {"type": "text", "text": "pPb (35 nb⁻¹), pp (27.4 pb⁻¹)", "align": "right", "fontSize": 29},
 "encoding": {"x": {"datum": 1.0535, "type": "quantitative", "axis": null}, "y": {"datum": 0.9389, "type": "quantitative", "axis": null}}},
{"mark": {"type": "text", "text": "= 5.02 TeV", "align": "right", "fontSize": 27.5},
 "encoding": {"x": {"datum": 1.0481, "type": "quantitative", "axis": null}, "y": {"datum": 0.8566, "type": "quantitative", "axis": null}}},
{"mark": {"type": "text", "text": "NN", "align": "right", "fontSize": 17.5, "dx": -145, "dy": 9.3},
 "encoding": {"x": {"datum": 1.0481, "type": "quantitative", "axis": null}, "y": {"datum": 0.8566, "type": "quantitative", "axis": null}}},
{"mark": {"type": "text", "text": "√s", "align": "right", "fontSize": 27.5, "dx": -170},
 "encoding": {"x": {"datum": 1.0481, "type": "quantitative", "axis": null}, "y": {"datum": 0.8566, "type": "quantitative", "axis": null}}},
{"mark": {"type": "text", "text": "anti-k", "align": "left", "fontSize": 29.5},
 "encoding": {"x": {"datum": 0.0847, "type": "quantitative", "axis": null}, "y": {"datum": 0.7401, "type": "quantitative", "axis": null}}},
{"mark": {"type": "text", "text": "T", "align": "left", "fontSize": 18, "dx": 73, "dy": 10},
 "encoding": {"x": {"datum": 0.0847, "type": "quantitative", "axis": null}, "y": {"datum": 0.7401, "type": "quantitative", "axis": null}}},
{"mark": {"type": "text", "text": "R = 0.3 jets", "align": "left", "fontSize": 29.5, "dx": 90.5},
 "encoding": {"x": {"datum": 0.0847, "type": "quantitative", "axis": null}, "y": {"datum": 0.7401, "type": "quantitative", "axis": null}}},
{"mark": {"type": "text", "text": "p", "align": "left", "fontSize": 29.5},
 "encoding": {"x": {"datum": 0.0829, "type": "quantitative", "axis": null}, "y": {"datum": 0.6578, "type": "quantitative", "axis": null}}},
{"mark": {"type": "text", "text": "T,1", "align": "left", "fontSize": 18, "dx": 17.5, "dy": 15.5},
 "encoding": {"x": {"datum": 0.0829, "type": "quantitative", "axis": null}, "y": {"datum": 0.6578, "type": "quantitative", "axis": null}}},
{"mark": {"type": "text", "text": "> 90 GeV, p", "align": "left", "fontSize": 29.5, "dx": 47.8},
 "encoding": {"x": {"datum": 0.0829, "type": "quantitative", "axis": null}, "y": {"datum": 0.6578, "type": "quantitative", "axis": null}}},
{"mark": {"type": "text", "text": "T,2", "align": "left", "fontSize": 18, "dx": 209, "dy": 15.5},
 "encoding": {"x": {"datum": 0.0829, "type": "quantitative", "axis": null}, "y": {"datum": 0.6578, "type": "quantitative", "axis": null}}},
{"mark": {"type": "text", "text": "> 20 GeV", "align": "left", "fontSize": 29.5, "dx": 241.8},
 "encoding": {"x": {"datum": 0.0829, "type": "quantitative", "axis": null}, "y": {"datum": 0.6578, "type": "quantitative", "axis": null}}},
{"mark": {"type": "text", "text": "Δϕ", "align": "left", "fontSize": 29.5},
 "encoding": {"x": {"datum": 0.0847, "type": "quantitative", "axis": null}, "y": {"datum": 0.5788, "type": "quantitative", "axis": null}}},
{"mark": {"type": "text", "text": "1,2", "align": "left", "fontSize": 18, "dx": 33.5, "dy": 15},
 "encoding": {"x": {"datum": 0.0847, "type": "quantitative", "axis": null}, "y": {"datum": 0.5788, "type": "quantitative", "axis": null}}},
{"mark": {"type": "text", "text": "> 2π/3", "align": "left", "fontSize": 29.5, "dx": 66.5},
 "encoding": {"x": {"datum": 0.0847, "type": "quantitative", "axis": null}, "y": {"datum": 0.5788, "type": "quantitative", "axis": null}}},
{"mark": {"type": "text", "text": "pp NLO pQCD: CT14", "align": "right", "fontSize": 29.4},
 "encoding": {"x": {"datum": 1.0205, "type": "quantitative", "axis": null}, "y": {"datum": 0.443, "type": "quantitative", "axis": null}}},
{"mark": {"type": "square", "size": 144, "color": "#ff0000", "opacity": 1},
 "encoding": {"x": {"datum": 0.1337, "type": "quantitative", "axis": null}, "y": {"datum": 0.3272, "type": "quantitative", "axis": null}}},
{"mark": {"type": "rect", "color": "#ff0000", "fillOpacity": 0.5, "stroke": "#ff0000", "strokeWidth": 2.5},
 "encoding": {"x": {"datum": 0.0989, "type": "quantitative", "axis": null}, "x2": {"datum": 0.1652}, "y": {"datum": 0.2284, "type": "quantitative", "axis": null}, "y2": {"datum": 0.2798}}},
{"mark": {"type": "rect", "color": "#1468f1", "fillOpacity": 0.37},
 "encoding": {"x": {"datum": 0.6185, "type": "quantitative", "axis": null}, "x2": {"datum": 0.6791}, "y": {"datum": 0.3086, "type": "quantitative", "axis": null}, "y2": {"datum": 0.3519}}},
{"mark": {"type": "rect", "color": "#00d64a", "fillOpacity": 0.37},
 "encoding": {"x": {"datum": 0.6185, "type": "quantitative", "axis": null}, "x2": {"datum": 0.6791}, "y": {"datum": 0.2346, "type": "quantitative", "axis": null}, "y2": {"datum": 0.2798}}},
{"mark": {"type": "text", "text": "Data", "align": "left", "fontSize": 33.3},
 "encoding": {"x": {"datum": 0.1765, "type": "quantitative", "axis": null}, "y": {"datum": 0.3148, "type": "quantitative", "axis": null}}},
{"mark": {"type": "text", "text": "Syst. uncert.", "align": "left", "fontSize": 33.3},
 "encoding": {"x": {"datum": 0.1765, "type": "quantitative", "axis": null}, "y": {"datum": 0.2393, "type": "quantitative", "axis": null}}},
{"mark": {"type": "text", "text": "DSSZ", "align": "left", "fontSize": 33.3},
 "encoding": {"x": {"datum": 0.6904, "type": "quantitative", "axis": null}, "y": {"datum": 0.3183, "type": "quantitative", "axis": null}}},
{"mark": {"type": "text", "text": "EPS09", "align": "left", "fontSize": 33.3},
 "encoding": {"x": {"datum": 0.6904, "type": "quantitative", "axis": null}, "y": {"datum": 0.2428, "type": "quantitative", "axis": null}}}
]
},
{
"width": 561, "height": 487,
"data": {"name": "bins"},
"transform": [{"filter": "datum.p === 'c'"}],
"resolve": {"axis": {"x": "independent", "y": "independent"}},
"layer": [
{"mark": {"type": "rect", "color": "#1468f1", "fillOpacity": 0.37, "clip": true},
 "encoding": {
  "x": {"field": "lo", "type": "quantitative", "scale": {"domain": [-3, 3], "nice": false, "zero": false},
        "axis": {"orient": "bottom", "values": [-2, -1, 0, 1, 2], "format": "~g", "tickSize": -14, "tickWidth": 2.5, "tickColor": "black", "domain": false, "grid": false, "labels": true, "labelFontSize": 43, "labelPadding": 22, "labelOverlap": false, "labelFlush": false, "labelBound": false, "title": null, "zindex": 1}},
  "x2": {"field": "hi"},
  "y": {"field": "dl", "type": "quantitative", "scale": {"domain": [0.5, 1.5], "nice": false, "zero": false},
        "axis": {"orient": "left", "values": [0.6, 0.8, 1, 1.2, 1.4], "format": "~g", "tickSize": -19, "tickWidth": 2.5, "tickColor": "black", "domain": false, "grid": false, "labels": true, "labelFontSize": 44, "labelPadding": 26, "labelOffset": 2, "labelOverlap": false, "labelFlush": false, "labelBound": false, "title": null, "zindex": 1}},
  "y2": {"field": "dh"}}},
{"mark": {"type": "rect", "color": "#00d64a", "fillOpacity": 0.37, "clip": true},
 "encoding": {
  "x": {"field": "lo", "type": "quantitative",
        "axis": {"orient": "bottom", "values": [-2.8, -2.6, -2.4, -2.2, -1.8, -1.6, -1.4, -1.2, -0.8, -0.6, -0.4, -0.2, 0.2, 0.4, 0.6, 0.8, 1.2, 1.4, 1.6, 1.8, 2.2, 2.4, 2.6, 2.8], "tickSize": -7, "tickWidth": 2.5, "tickColor": "black", "domain": false, "grid": false, "labels": false, "title": null, "zindex": 1}},
  "x2": {"field": "hi"},
  "y": {"field": "el", "type": "quantitative",
        "axis": {"orient": "left", "values": [0.55, 0.65, 0.7, 0.75, 0.85, 0.9, 0.95, 1.05, 1.1, 1.15, 1.25, 1.3, 1.35, 1.45], "tickSize": -9, "tickWidth": 2.5, "tickColor": "black", "domain": false, "grid": false, "labels": false, "title": null, "zindex": 1}},
  "y2": {"field": "eh"}}},
{"mark": {"type": "rule", "color": "black", "strokeWidth": 2}, "encoding": {"y": {"datum": 1, "type": "quantitative", "axis": null}}},
{"mark": {"type": "rect", "color": "#ff0000", "fillOpacity": 0.5, "stroke": "#ff0000", "strokeWidth": 2.5, "clip": true},
 "encoding": {"x": {"field": "bl", "type": "quantitative", "axis": null}, "x2": {"field": "bh"}, "y": {"field": "yl", "type": "quantitative", "axis": null}, "y2": {"field": "yh"}}},
{"mark": {"type": "rule", "color": "#ff0000", "strokeWidth": 2.5, "clip": true},
 "encoding": {"x": {"field": "x", "type": "quantitative", "axis": null}, "y": {"field": "sl", "type": "quantitative", "axis": null}, "y2": {"field": "sh"}}},
{"mark": {"type": "rule", "color": "#ff0000", "strokeWidth": 2.5, "clip": true},
 "encoding": {"x": {"field": "lo", "type": "quantitative", "axis": null}, "x2": {"field": "hi"}, "y": {"field": "r", "type": "quantitative", "axis": null}}},
{"mark": {"type": "square", "size": 121, "color": "#ff0000", "opacity": 1, "clip": true},
 "encoding": {"x": {"field": "x", "type": "quantitative", "axis": null}, "y": {"field": "r", "type": "quantitative", "axis": null}}},
{"data": {"values": [{}]}, "mark": {"type": "text", "text": "95 < p", "align": "left", "fontSize": 37.5},
 "encoding": {"x": {"datum": -2.61, "type": "quantitative", "axis": null}, "y": {"datum": 1.373, "type": "quantitative", "axis": null}}},
{"data": {"values": [{}]}, "mark": {"type": "text", "text": "ave", "align": "left", "fontSize": 25, "dx": 106.5, "dy": -20},
 "encoding": {"x": {"datum": -2.61, "type": "quantitative", "axis": null}, "y": {"datum": 1.373, "type": "quantitative", "axis": null}}},
{"data": {"values": [{}]}, "mark": {"type": "text", "text": "T", "align": "left", "fontSize": 25, "dx": 108, "dy": 19},
 "encoding": {"x": {"datum": -2.61, "type": "quantitative", "axis": null}, "y": {"datum": 1.373, "type": "quantitative", "axis": null}}},
{"data": {"values": [{}]}, "mark": {"type": "text", "text": "< 115 GeV", "align": "left", "fontSize": 37.5, "dx": 155.5},
 "encoding": {"x": {"datum": -2.61, "type": "quantitative", "axis": null}, "y": {"datum": 1.373, "type": "quantitative", "axis": null}}},
{"data": {"values": [{}]}, "mark": {"type": "text", "text": "pPb", "align": "center", "baseline": "middle", "angle": 270, "fontSize": 38, "dy": -151.5},
 "encoding": {"x": {"datum": -3, "type": "quantitative", "axis": null}, "y": {"datum": 1, "type": "quantitative", "axis": null}}},
{"data": {"values": [{}]}, "mark": {"type": "text", "text": "pp", "align": "center", "baseline": "middle", "angle": 270, "fontSize": 38, "dy": -103},
 "encoding": {"x": {"datum": -3, "type": "quantitative", "axis": null}, "y": {"datum": 1, "type": "quantitative", "axis": null}}},
{"data": {"values": [{}]}, "mark": {"type": "text", "text": "━━━", "align": "center", "baseline": "middle", "angle": 270, "fontSize": 44, "dy": -121},
 "encoding": {"x": {"datum": -3, "type": "quantitative", "axis": null}, "y": {"datum": 1, "type": "quantitative", "axis": null}}},
{"data": {"values": [{}]}, "mark": {"type": "text", "text": "η", "align": "left", "baseline": "middle", "fontSize": 41, "dx": -40, "dy": 75},
 "encoding": {"x": {"datum": 0, "type": "quantitative", "axis": null}, "y": {"datum": 0.5, "type": "quantitative", "axis": null}}},
{"data": {"values": [{}]}, "mark": {"type": "text", "text": "dijet", "align": "left", "baseline": "middle", "fontSize": 27, "dx": -16, "dy": 95},
 "encoding": {"x": {"datum": 0, "type": "quantitative", "axis": null}, "y": {"datum": 0.5, "type": "quantitative", "axis": null}}}
]
},
{
"width": 561, "height": 487,
"data": {"name": "bins"},
"transform": [{"filter": "datum.p === 'd'"}],
"resolve": {"axis": {"x": "independent", "y": "independent"}},
"layer": [
{"mark": {"type": "rect", "color": "#1468f1", "fillOpacity": 0.37, "clip": true},
 "encoding": {
  "x": {"field": "lo", "type": "quantitative", "scale": {"domain": [-3, 3], "nice": false, "zero": false},
        "axis": {"orient": "bottom", "values": [-2, -1, 0, 1, 2], "format": "~g", "tickSize": -14, "tickWidth": 2.5, "tickColor": "black", "domain": false, "grid": false, "labels": true, "labelFontSize": 43, "labelPadding": 22, "labelOverlap": false, "labelFlush": false, "labelBound": false, "title": null, "zindex": 1}},
  "x2": {"field": "hi"},
  "y": {"field": "dl", "type": "quantitative", "scale": {"domain": [0.5, 1.5], "nice": false, "zero": false},
        "axis": {"orient": "left", "values": [0.6, 0.8, 1, 1.2, 1.4], "tickSize": -19, "tickWidth": 2.5, "tickColor": "black", "domain": false, "grid": false, "labels": false, "title": null, "zindex": 1}},
  "y2": {"field": "dh"}}},
{"mark": {"type": "rect", "color": "#00d64a", "fillOpacity": 0.37, "clip": true},
 "encoding": {
  "x": {"field": "lo", "type": "quantitative",
        "axis": {"orient": "bottom", "values": [-2.8, -2.6, -2.4, -2.2, -1.8, -1.6, -1.4, -1.2, -0.8, -0.6, -0.4, -0.2, 0.2, 0.4, 0.6, 0.8, 1.2, 1.4, 1.6, 1.8, 2.2, 2.4, 2.6, 2.8], "tickSize": -7, "tickWidth": 2.5, "tickColor": "black", "domain": false, "grid": false, "labels": false, "title": null, "zindex": 1}},
  "x2": {"field": "hi"},
  "y": {"field": "el", "type": "quantitative",
        "axis": {"orient": "left", "values": [0.55, 0.65, 0.7, 0.75, 0.85, 0.9, 0.95, 1.05, 1.1, 1.15, 1.25, 1.3, 1.35, 1.45], "tickSize": -9, "tickWidth": 2.5, "tickColor": "black", "domain": false, "grid": false, "labels": false, "title": null, "zindex": 1}},
  "y2": {"field": "eh"}}},
{"mark": {"type": "rule", "color": "black", "strokeWidth": 2}, "encoding": {"y": {"datum": 1, "type": "quantitative", "axis": null}}},
{"mark": {"type": "rect", "color": "#ff0000", "fillOpacity": 0.5, "stroke": "#ff0000", "strokeWidth": 2.5, "clip": true},
 "encoding": {"x": {"field": "bl", "type": "quantitative", "axis": null}, "x2": {"field": "bh"}, "y": {"field": "yl", "type": "quantitative", "axis": null}, "y2": {"field": "yh"}}},
{"mark": {"type": "rule", "color": "#ff0000", "strokeWidth": 2.5, "clip": true},
 "encoding": {"x": {"field": "x", "type": "quantitative", "axis": null}, "y": {"field": "sl", "type": "quantitative", "axis": null}, "y2": {"field": "sh"}}},
{"mark": {"type": "rule", "color": "#ff0000", "strokeWidth": 2.5, "clip": true},
 "encoding": {"x": {"field": "lo", "type": "quantitative", "axis": null}, "x2": {"field": "hi"}, "y": {"field": "r", "type": "quantitative", "axis": null}}},
{"mark": {"type": "square", "size": 121, "color": "#ff0000", "opacity": 1, "clip": true},
 "encoding": {"x": {"field": "x", "type": "quantitative", "axis": null}, "y": {"field": "r", "type": "quantitative", "axis": null}}},
{"data": {"values": [{}]}, "mark": {"type": "text", "text": "115 < p", "align": "left", "fontSize": 37.5},
 "encoding": {"x": {"datum": -2.724, "type": "quantitative", "axis": null}, "y": {"datum": 1.373, "type": "quantitative", "axis": null}}},
{"data": {"values": [{}]}, "mark": {"type": "text", "text": "ave", "align": "left", "fontSize": 25, "dx": 128.5, "dy": -20},
 "encoding": {"x": {"datum": -2.724, "type": "quantitative", "axis": null}, "y": {"datum": 1.373, "type": "quantitative", "axis": null}}},
{"data": {"values": [{}]}, "mark": {"type": "text", "text": "T", "align": "left", "fontSize": 25, "dx": 130, "dy": 19},
 "encoding": {"x": {"datum": -2.724, "type": "quantitative", "axis": null}, "y": {"datum": 1.373, "type": "quantitative", "axis": null}}},
{"data": {"values": [{}]}, "mark": {"type": "text", "text": "< 150 GeV", "align": "left", "fontSize": 37.5, "dx": 177},
 "encoding": {"x": {"datum": -2.724, "type": "quantitative", "axis": null}, "y": {"datum": 1.373, "type": "quantitative", "axis": null}}},
{"data": {"values": [{}]}, "mark": {"type": "text", "text": "η", "align": "left", "baseline": "middle", "fontSize": 41, "dx": -40, "dy": 75},
 "encoding": {"x": {"datum": 0, "type": "quantitative", "axis": null}, "y": {"datum": 0.5, "type": "quantitative", "axis": null}}},
{"data": {"values": [{}]}, "mark": {"type": "text", "text": "dijet", "align": "left", "baseline": "middle", "fontSize": 27, "dx": -16, "dy": 95},
 "encoding": {"x": {"datum": 0, "type": "quantitative", "axis": null}, "y": {"datum": 0.5, "type": "quantitative", "axis": null}}}
]
},
{
"width": 561, "height": 487,
"data": {"name": "bins"},
"transform": [{"filter": "datum.p === 'e'"}],
"resolve": {"axis": {"x": "independent", "y": "independent"}},
"layer": [
{"mark": {"type": "rect", "color": "#1468f1", "fillOpacity": 0.37, "clip": true},
 "encoding": {
  "x": {"field": "lo", "type": "quantitative", "scale": {"domain": [-3, 3], "nice": false, "zero": false},
        "axis": {"orient": "bottom", "values": [-2, -1, 0, 1, 2], "format": "~g", "tickSize": -14, "tickWidth": 2.5, "tickColor": "black", "domain": false, "grid": false, "labels": true, "labelFontSize": 43, "labelPadding": 22, "labelOverlap": false, "labelFlush": false, "labelBound": false, "title": null, "zindex": 1}},
  "x2": {"field": "hi"},
  "y": {"field": "dl", "type": "quantitative", "scale": {"domain": [0.5, 1.5], "nice": false, "zero": false},
        "axis": {"orient": "left", "values": [0.6, 0.8, 1, 1.2, 1.4], "tickSize": -19, "tickWidth": 2.5, "tickColor": "black", "domain": false, "grid": false, "labels": false, "title": null, "zindex": 1}},
  "y2": {"field": "dh"}}},
{"mark": {"type": "rect", "color": "#00d64a", "fillOpacity": 0.37, "clip": true},
 "encoding": {
  "x": {"field": "lo", "type": "quantitative",
        "axis": {"orient": "bottom", "values": [-2.8, -2.6, -2.4, -2.2, -1.8, -1.6, -1.4, -1.2, -0.8, -0.6, -0.4, -0.2, 0.2, 0.4, 0.6, 0.8, 1.2, 1.4, 1.6, 1.8, 2.2, 2.4, 2.6, 2.8], "tickSize": -7, "tickWidth": 2.5, "tickColor": "black", "domain": false, "grid": false, "labels": false, "title": null, "zindex": 1}},
  "x2": {"field": "hi"},
  "y": {"field": "el", "type": "quantitative",
        "axis": {"orient": "left", "values": [0.55, 0.65, 0.7, 0.75, 0.85, 0.9, 0.95, 1.05, 1.1, 1.15, 1.25, 1.3, 1.35, 1.45], "tickSize": -9, "tickWidth": 2.5, "tickColor": "black", "domain": false, "grid": false, "labels": false, "title": null, "zindex": 1}},
  "y2": {"field": "eh"}}},
{"mark": {"type": "rule", "color": "black", "strokeWidth": 2}, "encoding": {"y": {"datum": 1, "type": "quantitative", "axis": null}}},
{"mark": {"type": "rect", "color": "#ff0000", "fillOpacity": 0.5, "stroke": "#ff0000", "strokeWidth": 2.5, "clip": true},
 "encoding": {"x": {"field": "bl", "type": "quantitative", "axis": null}, "x2": {"field": "bh"}, "y": {"field": "yl", "type": "quantitative", "axis": null}, "y2": {"field": "yh"}}},
{"mark": {"type": "rule", "color": "#ff0000", "strokeWidth": 2.5, "clip": true},
 "encoding": {"x": {"field": "x", "type": "quantitative", "axis": null}, "y": {"field": "sl", "type": "quantitative", "axis": null}, "y2": {"field": "sh"}}},
{"mark": {"type": "rule", "color": "#ff0000", "strokeWidth": 2.5, "clip": true},
 "encoding": {"x": {"field": "lo", "type": "quantitative", "axis": null}, "x2": {"field": "hi"}, "y": {"field": "r", "type": "quantitative", "axis": null}}},
{"mark": {"type": "square", "size": 121, "color": "#ff0000", "opacity": 1, "clip": true},
 "encoding": {"x": {"field": "x", "type": "quantitative", "axis": null}, "y": {"field": "r", "type": "quantitative", "axis": null}}},
{"data": {"values": [{}]}, "mark": {"type": "text", "text": "p", "align": "left", "fontSize": 37.5},
 "encoding": {"x": {"datum": -2.695, "type": "quantitative", "axis": null}, "y": {"datum": 1.373, "type": "quantitative", "axis": null}}},
{"data": {"values": [{}]}, "mark": {"type": "text", "text": "ave", "align": "left", "fontSize": 25, "dx": 21, "dy": -20},
 "encoding": {"x": {"datum": -2.695, "type": "quantitative", "axis": null}, "y": {"datum": 1.373, "type": "quantitative", "axis": null}}},
{"data": {"values": [{}]}, "mark": {"type": "text", "text": "T", "align": "left", "fontSize": 25, "dx": 23, "dy": 19},
 "encoding": {"x": {"datum": -2.695, "type": "quantitative", "axis": null}, "y": {"datum": 1.373, "type": "quantitative", "axis": null}}},
{"data": {"values": [{}]}, "mark": {"type": "text", "text": "> 150 GeV", "align": "left", "fontSize": 37.5, "dx": 69},
 "encoding": {"x": {"datum": -2.695, "type": "quantitative", "axis": null}, "y": {"datum": 1.373, "type": "quantitative", "axis": null}}},
{"data": {"values": [{}]}, "mark": {"type": "text", "text": "η", "align": "left", "baseline": "middle", "fontSize": 41, "dx": -40, "dy": 75},
 "encoding": {"x": {"datum": 0, "type": "quantitative", "axis": null}, "y": {"datum": 0.5, "type": "quantitative", "axis": null}}},
{"data": {"values": [{}]}, "mark": {"type": "text", "text": "dijet", "align": "left", "baseline": "middle", "fontSize": 27, "dx": -16, "dy": 95},
 "encoding": {"x": {"datum": 0, "type": "quantitative", "axis": null}, "y": {"datum": 0.5, "type": "quantitative", "axis": null}}}
]
}
]
}
